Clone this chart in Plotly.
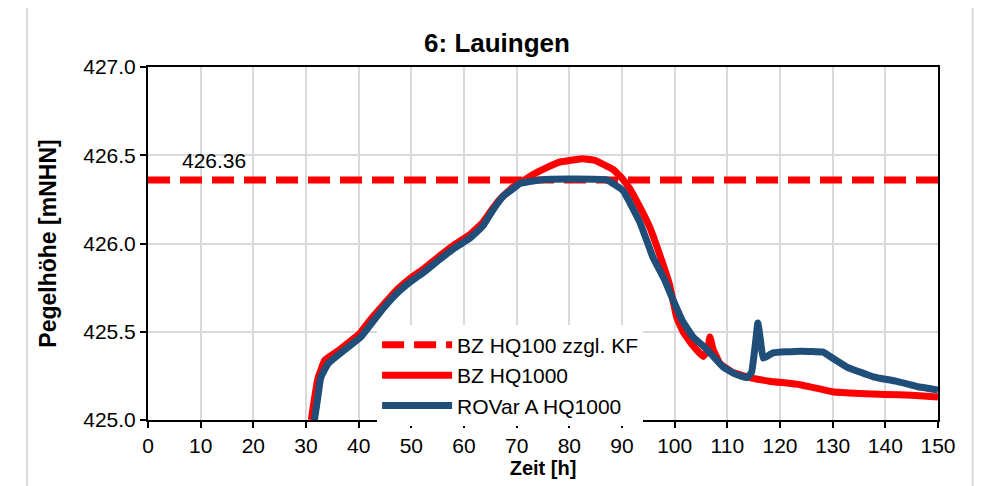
import plotly.graph_objects as go

# Hochwasserbemessung - Pegel 6: Lauingen
t_bz = [31.0, 31.6, 32.3, 33.6, 36.0, 40.2, 42.0, 44.6, 47.0, 49.7, 52.5, 55.4, 58.0,
        61.1, 63.6, 65.5, 66.8, 69.3, 71.0, 73.0, 75.7, 78.0, 80.0, 82.5, 85.0, 87.0,
        88.3, 90.0, 91.5, 93.5, 95.3, 97.0, 99.0, 100.4, 101.6, 103.5, 105.4, 106.2,
        106.7, 107.3, 108.6, 111.0, 114.3, 118.0, 123.8, 130.0, 135.0, 140.0, 145.0, 150.0]
h_bz = [425.00, 425.12, 425.24, 425.34, 425.39, 425.49, 425.56, 425.65, 425.73, 425.80,
        425.86, 425.93, 425.99, 426.05, 426.12, 426.20, 426.25, 426.32, 426.35, 426.39,
        426.43, 426.46, 426.47, 426.48, 426.47, 426.44, 426.42, 426.37, 426.31, 426.20,
        426.09, 425.95, 425.77, 425.58, 425.50, 425.42, 425.36, 425.39, 425.47, 425.40,
        425.32, 425.27, 425.24, 425.22, 425.20, 425.16, 425.15, 425.145, 425.14, 425.13]

t_ro = [31.6, 32.2, 32.8, 34.2, 37.0, 40.4, 42.0, 44.6, 47.0, 49.7, 52.5, 55.4, 58.0,
        61.1, 63.6, 65.5, 67.5, 69.3, 70.6, 74.4, 80.0, 87.1, 90.2, 93.4, 95.9, 98.0,
        99.7, 101.5, 103.5, 106.1, 109.2, 111.5, 113.7, 114.6, 115.4, 115.8, 116.3,
        116.8, 118.7, 123.8, 128.2, 130.0, 132.7, 137.7, 142.0, 146.0, 150.0]
h_ro = [425.00, 425.12, 425.24, 425.32, 425.39, 425.47, 425.53, 425.63, 425.71, 425.78,
        425.84, 425.91, 425.97, 426.03, 426.10, 426.19, 426.27, 426.31, 426.34, 426.36,
        426.365, 426.36, 426.30, 426.12, 425.92, 425.80, 425.68, 425.56, 425.47, 425.40,
        425.30, 425.26, 425.24, 425.27, 425.45, 425.55, 425.45, 425.35, 425.38, 425.39,
        425.385, 425.35, 425.30, 425.245, 425.22, 425.19, 425.17]

t_kf = [0, 150]
h_kf = [426.36, 426.36]

FONT = "Arial, Liberation Sans, sans-serif"
RED = "#FF0000"
BLUE = "#1F4E79"
GRID = "#D9D9D9"

fig = go.Figure()

fig.add_trace(go.Scatter(
    x=t_kf, y=h_kf, mode="lines", name="BZ HQ100 zzgl. KF",
    line=dict(color=RED, width=7, dash="22px,10px")
))
fig.add_trace(go.Scatter(
    x=t_bz, y=h_bz, mode="lines", name="BZ HQ1000",
    line=dict(color=RED, width=7, shape="spline", smoothing=0.3)
))
fig.add_trace(go.Scatter(
    x=t_ro, y=h_ro, mode="lines", name="ROVar A HQ1000",
    line=dict(color=BLUE, width=7, shape="spline", smoothing=0.3)
))

fig.add_annotation(
    x=12.5, y=426.36, yshift=19, text="426.36", showarrow=False,
    font=dict(family=FONT, size=21, color="black")
)

# outer chart frame (light gray) and neighbour chart edge
fig.add_shape(type="rect", xref="paper", yref="paper",
              x0=-0.153, x1=1.044, y0=-0.3, y1=1.176,
              line=dict(color=GRID, width=2), layer="below")
fig.add_shape(type="line", xref="paper", yref="paper",
              x0=-0.1835, x1=-0.1835, y0=-0.3, y1=1.2,
              line=dict(color=GRID, width=2), layer="below")

fig.update_layout(
    width=978, height=478,
    margin=dict(l=140, r=48, t=59, b=66),
    paper_bgcolor="white", plot_bgcolor="white",
    font=dict(family=FONT, size=21, color="black"),
    title=dict(text="<b>6: Lauingen</b>", x=0.5, xanchor="center",
               y=1 - 35 / 478, yanchor="middle", font=dict(family=FONT, size=26, color="black")),
    showlegend=True,
    legend=dict(x=0.29, y=0.27, xanchor="left", yanchor="top",
                bgcolor="white", borderwidth=0, itemwidth=70,
                font=dict(family=FONT, size=21, color="black"),
                tracegroupgap=0),
)

fig.update_xaxes(
    range=[0, 150], dtick=10, tick0=0,
    showgrid=True, gridcolor=GRID, gridwidth=2,
    showline=True, linecolor="black", linewidth=2, mirror=True,
    ticks="outside", ticklen=6, tickwidth=2, tickcolor="black",
    tickfont=dict(family=FONT, size=21),
    title=dict(text="<b>Zeit [h]</b>", font=dict(family=FONT, size=20), standoff=2),
    zeroline=False
)
fig.update_yaxes(
    range=[425, 427], dtick=0.5, tick0=425, tickformat=".1f",
    showgrid=True, gridcolor=GRID, gridwidth=2,
    showline=True, linecolor="black", linewidth=2, mirror=True,
    ticks="outside", ticklen=6, tickwidth=2, tickcolor="black",
    tickfont=dict(family=FONT, size=21),
    title=dict(text="<b>Pegelhöhe [mNHN]</b>", font=dict(family=FONT, size=23), standoff=20),
    zeroline=False
)

fig.write_html("out.html")
